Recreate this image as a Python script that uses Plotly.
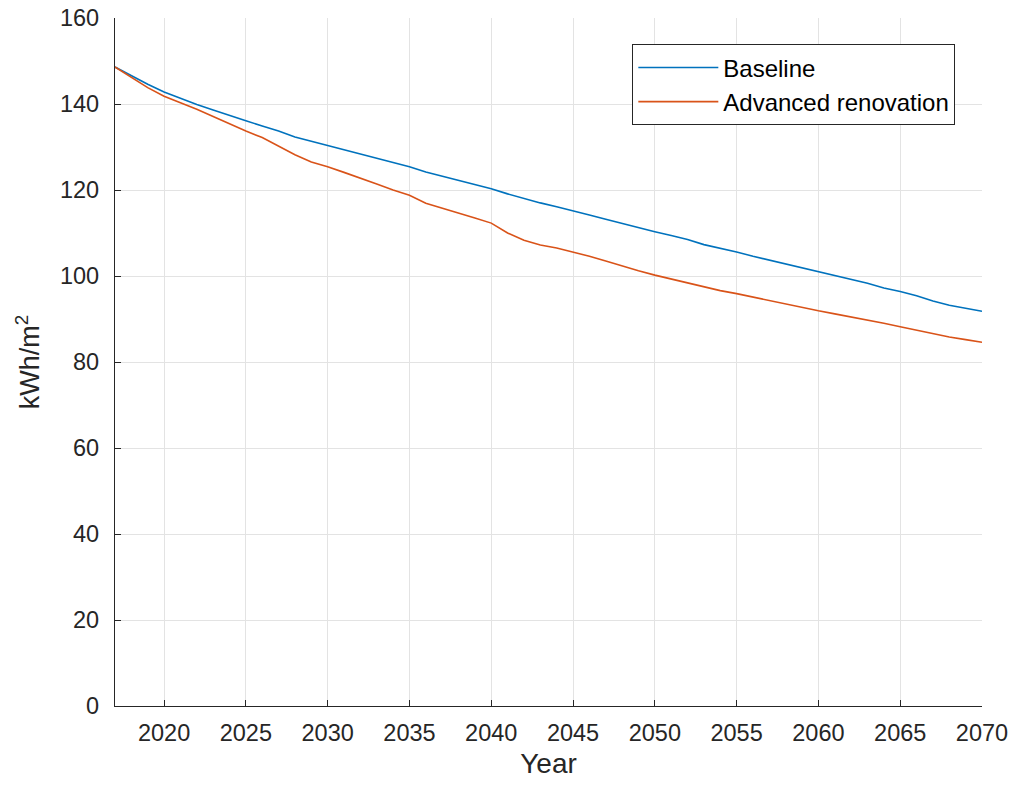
import plotly.graph_objects as go

# Annual energy intensity of the building stock (kWh/m2)
years = list(range(2017, 2071))

baseline = [
    148.6, 146.6, 144.6, 142.8, 141.3, 139.9, 138.6, 137.3, 136.1, 134.9,
    133.7, 132.3, 131.3, 130.4, 129.4, 128.4, 127.4, 126.4, 125.4, 124.2,
    123.2, 122.2, 121.3, 120.3, 119.1, 118.0, 117.0, 116.1, 115.2, 114.2,
    113.2, 112.2, 111.2, 110.3, 109.4, 108.5, 107.3, 106.5, 105.6, 104.6,
    103.7, 102.8, 101.9, 101.1, 100.2, 99.2, 98.3, 97.2, 96.4, 95.4,
    94.2, 93.2, 92.5, 91.8,
]

advanced = [
    148.6, 146.2, 143.8, 141.8, 140.3, 138.8, 137.1, 135.4, 133.7, 132.2,
    130.2, 128.2, 126.5, 125.4, 124.1, 122.8, 121.4, 120.0, 118.8, 116.9,
    115.8, 114.6, 113.5, 112.3, 110.0, 108.3, 107.2, 106.5, 105.6, 104.6,
    103.5, 102.3, 101.2, 100.2, 99.3, 98.4, 97.4, 96.6, 95.9, 95.1,
    94.3, 93.4, 92.6, 91.9, 91.2, 90.5, 89.8, 89.0, 88.2, 87.4,
    86.5, 85.8, 85.2, 84.6,
]

x_ticks = list(range(2020, 2071, 5))
y_ticks = list(range(0, 161, 20))

TEXT = "#262626"
FONT = "Liberation Sans, Arial, Helvetica, sans-serif"

fig = go.Figure()
fig.add_trace(go.Scatter(x=years, y=baseline, mode="lines", name="Baseline",
                         line=dict(color="#0072BD", width=1.6)))
fig.add_trace(go.Scatter(x=years, y=advanced, mode="lines", name="Advanced renovation",
                         line=dict(color="#D95319", width=1.6)))

axis_common = dict(
    showgrid=True, gridcolor="#e3e3e3", gridwidth=1,
    showline=True, linecolor=TEXT, linewidth=1.2,
    ticks="inside", ticklen=6, tickcolor=TEXT, tickwidth=1.2,
    tickfont=dict(family=FONT, size=23.5, color=TEXT),
    zeroline=False, mirror=False, automargin=False,
)

fig.update_layout(
    width=1013, height=789,
    margin=dict(l=115, r=31, t=18, b=83),
    paper_bgcolor="white", plot_bgcolor="white",
    font=dict(family=FONT, color=TEXT),
    xaxis=dict(range=[2017, 2070], tickvals=x_ticks,
               title=dict(text="Year", font=dict(family=FONT, size=28, color=TEXT), standoff=8),
               ticklabelstandoff=6, **axis_common),
    yaxis=dict(range=[0, 160], tickvals=y_ticks,
               title=dict(text="kWh/m<sup>2</sup>", font=dict(family=FONT, size=27, color=TEXT), standoff=12),
               ticklabelstandoff=10, **axis_common),
    legend=dict(x=0.969, y=0.962, xanchor="right", yanchor="top",
                bgcolor="white", bordercolor=TEXT, borderwidth=1.2,
                font=dict(family=FONT, size=24, color="#000000"),
                itemwidth=80, tracegroupgap=0),
    showlegend=True,
)

fig.write_html("out.html")
